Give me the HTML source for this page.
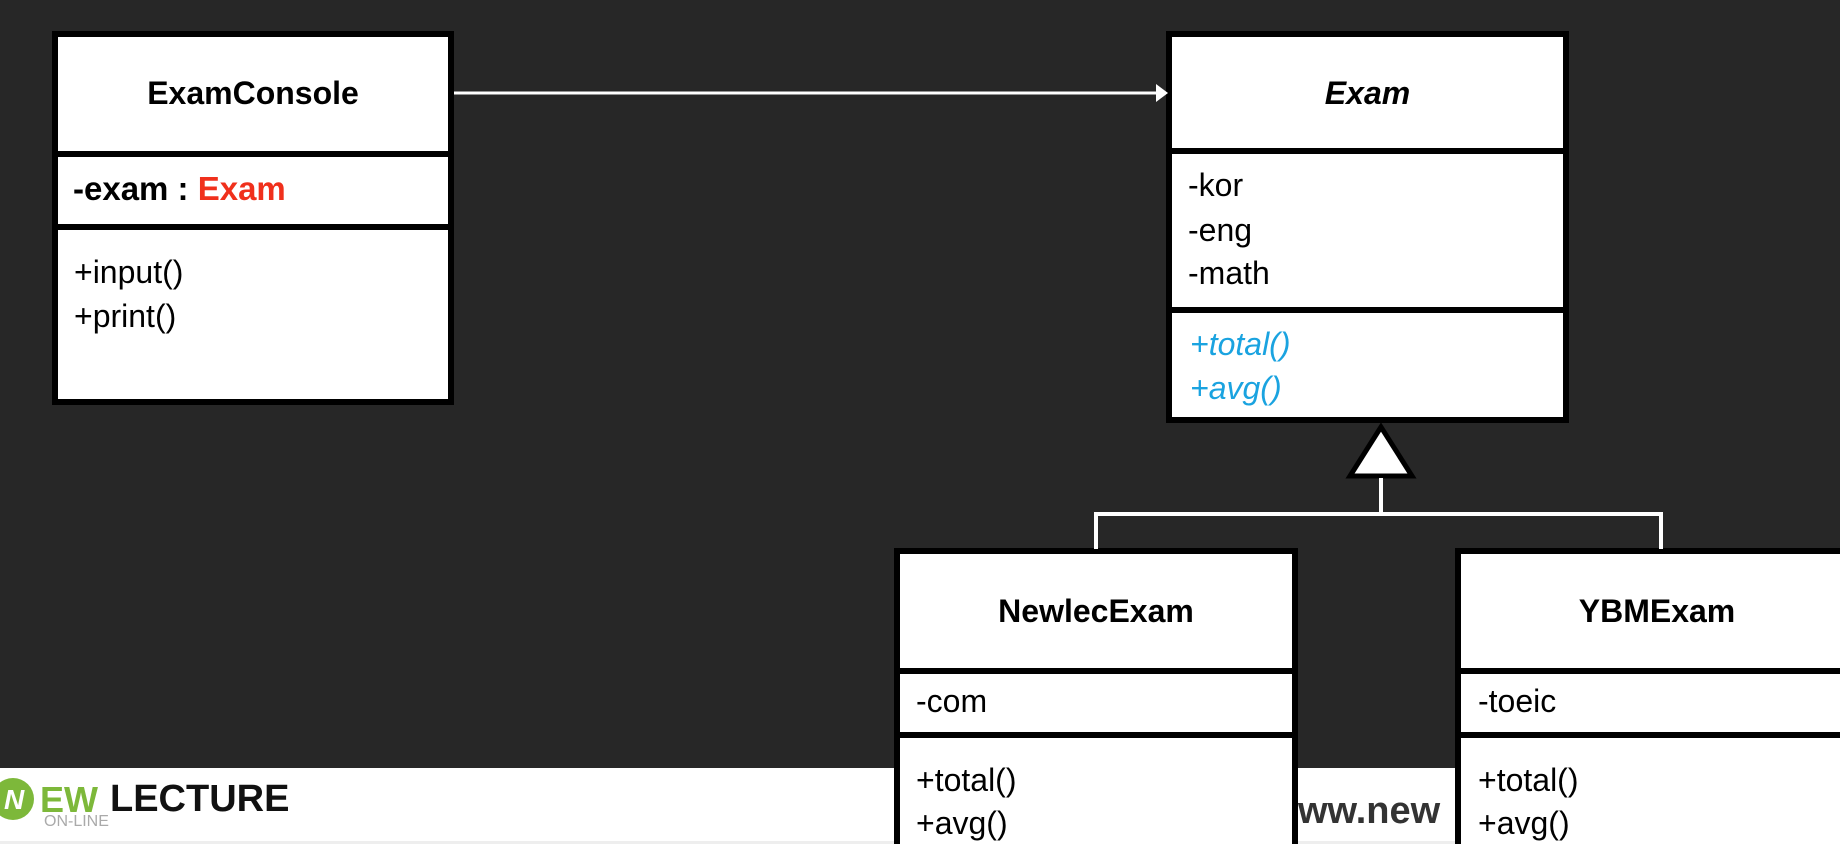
<!DOCTYPE html>
<html style="overflow:hidden;height:844px"><head><meta charset="utf-8"><style>
html,body{margin:0;padding:0;}
body{width:1840px;height:844px;overflow:hidden;background:#272727;position:relative;font-family:"Liberation Sans","Noto Sans CJK KR",sans-serif;}
.box{position:absolute;background:#fff;border:6px solid #000;box-sizing:border-box;}
.open{border-bottom:none;}
.div{position:absolute;left:0;right:0;height:6px;background:#000;}
.t{position:absolute;font-size:32px;color:#000;white-space:nowrap;line-height:1;}
.b{font-weight:bold;}
.blue{color:#1aa3e0;font-style:italic;}
</style></head><body>
<div style="position:absolute;left:0;top:768px;width:1840px;height:76px;background:#fff"></div>
<div style="position:absolute;left:0;top:841px;width:1840px;height:3px;background:#eee"></div>
<div style="position:absolute;left:-8px;top:778px;width:42px;height:42px;border-radius:50%;background:#7db83a"></div>
<div class="t b" style="left:4px;top:786px;font-size:28px;color:#fff;font-style:italic">N</div>
<div class="t b" style="left:40px;top:782px;font-size:36px;color:#7db83a">EW</div>
<div class="t b" style="left:110px;top:780px;font-size:38px;color:#111">LECTURE</div>
<div class="t" style="left:44px;top:814px;font-size:16px;color:#aaa">ON-LINE</div>
<div class="t b" style="left:1298px;top:792px;font-size:38px;color:#333">ww.new</div>

<!-- ExamConsole -->
<div class="box" style="left:52px;top:31px;width:402px;height:374px">
 <div class="div" style="top:114px"></div>
 <div class="div" style="top:187px"></div>
</div>
<div class="t b" style="left:52px;width:402px;text-align:center;top:77px;font-size:32px">ExamConsole</div>
<div class="t b" style="left:73px;top:172px;font-size:33px">-exam : <span style="color:#f0301c">Exam</span></div>
<div class="t" style="left:74px;top:256px">+input()</div>
<div class="t" style="left:74px;top:300px">+print()</div>

<!-- Exam -->
<div class="box" style="left:1166px;top:31px;width:403px;height:392px">
 <div class="div" style="top:111px"></div>
 <div class="div" style="top:270px"></div>
</div>
<div class="t b" style="left:1166px;width:403px;text-align:center;top:77px;font-size:32px;font-style:italic">Exam</div>
<div class="t" style="left:1188px;top:169px">-kor</div>
<div class="t" style="left:1188px;top:214px">-eng</div>
<div class="t" style="left:1188px;top:257px">-math</div>
<div class="t blue" style="left:1190px;top:328px">+total()</div>
<div class="t blue" style="left:1190px;top:372px">+avg()</div>

<!-- NewlecExam -->
<div class="box open" style="left:894px;top:548px;width:404px;height:296px">
 <div class="div" style="top:114px"></div>
 <div class="div" style="top:178px"></div>
</div>
<div class="t b" style="left:894px;width:404px;text-align:center;top:595px;font-size:32px">NewlecExam</div>
<div class="t" style="left:916px;top:685px">-com</div>
<div class="t" style="left:916px;top:764px">+total()</div>
<div class="t" style="left:916px;top:807px">+avg()</div>

<!-- YBMExam -->
<div class="box open" style="left:1455px;top:548px;width:420px;height:296px">
 <div class="div" style="top:114px"></div>
 <div class="div" style="top:178px"></div>
</div>
<div class="t b" style="left:1455px;width:404px;text-align:center;top:595px;font-size:32px">YBMExam</div>
<div class="t" style="left:1478px;top:685px">-toeic</div>
<div class="t" style="left:1478px;top:764px">+total()</div>
<div class="t" style="left:1478px;top:807px">+avg()</div>

<svg width="1840" height="844" style="position:absolute;left:0;top:0">
 <line x1="454" y1="93" x2="1160" y2="93" stroke="#fff" stroke-width="3"/>
 <polygon points="1156,84 1168,93 1156,102" fill="#fff"/>
 <polygon points="1381,427 1350,476 1412,476" fill="#fff" stroke="#000" stroke-width="5"/>
 <polyline points="1381,478 1381,514" fill="none" stroke="#fff" stroke-width="4"/>
 <polyline points="1096,549 1096,514 1661,514 1661,549" fill="none" stroke="#fff" stroke-width="4"/>
</svg>
</body></html>
